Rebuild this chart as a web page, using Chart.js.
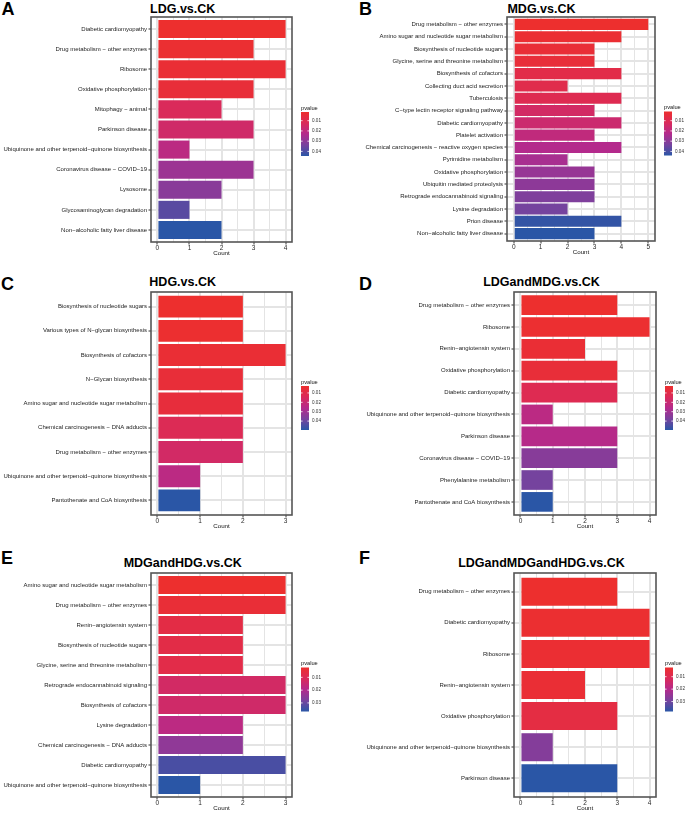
<!DOCTYPE html>
<html><head><meta charset="utf-8">
<script src="https://cdn.jsdelivr.net/npm/chart.js@4.4.0/dist/chart.umd.min.js"></script>
<style>
html,body{margin:0;padding:0;background:#fff;}
#wrap{position:relative;width:685px;height:814px;overflow:hidden;font-family:"Liberation Sans",Arial,sans-serif;background:#fff;}
canvas{position:absolute;}
.letter{position:absolute;font-weight:bold;font-size:18px;line-height:18px;color:#000;}
.title{position:absolute;font-weight:bold;font-size:12.5px;line-height:12.5px;color:#000;text-align:center;width:240px;white-space:nowrap;}
</style></head><body><div id="wrap"></div>
<script>
// ---------------- DATA ----------------
const letters = ["A", "B", "C", "D", "E", "F"];
const titles = ["LDG.vs.CK", "MDG.vs.CK", "HDG.vs.CK", "LDGandMDG.vs.CK", "MDGandHDG.vs.CK", "LDGandMDGandHDG.vs.CK"];

const pathwaysA = ["Diabetic cardiomyopathy", "Drug metabolism − other enzymes", "Ribosome", "Oxidative phosphorylation", "Mitophagy − animal", "Parkinson disease", "Ubiquinone and other terpenoid−quinone biosynthesis", "Coronavirus disease − COVID−19", "Lysosome", "Glycosaminoglycan degradation", "Non−alcoholic fatty liver disease"];
const countA = [4, 3, 4, 3, 2, 3, 1, 3, 2, 1, 2];
const pvalueA = [0.0015, 0.0024, 0.0032, 0.0041, 0.0123, 0.0153, 0.0209, 0.0273, 0.0307, 0.0380, 0.0445];

const pathwaysB = ["Drug metabolism − other enzymes", "Amino sugar and nucleotide sugar metabolism", "Biosynthesis of nucleotide sugars", "Glycine, serine and threonine metabolism", "Biosynthesis of cofactors", "Collecting duct acid secretion", "Tuberculosis", "C−type lectin receptor signaling pathway", "Diabetic cardiomyopathy", "Platelet activation", "Chemical carcinogenesis − reactive oxygen species", "Pyrimidine metabolism", "Oxidative phosphorylation", "Ubiquitin mediated proteolysis", "Retrograde endocannabinoid signaling", "Lysine degradation", "Prion disease", "Non−alcoholic fatty liver disease"];
const countB = [5, 4, 3, 3, 4, 2, 4, 3, 4, 3, 4, 2, 3, 3, 3, 2, 4, 3];
const pvalueB = [0.0010, 0.0023, 0.0032, 0.0040, 0.0075, 0.0083, 0.0096, 0.0139, 0.0161, 0.0191, 0.0225, 0.0247, 0.0277, 0.0294, 0.0320, 0.0337, 0.0427, 0.0440];

const pathwaysC = ["Biosynthesis of nucleotide sugars", "Various types of N−glycan biosynthesis", "Biosynthesis of cofactors", "N−Glycan biosynthesis", "Amino sugar and nucleotide sugar metabolism", "Chemical carcinogenesis − DNA adducts", "Drug metabolism − other enzymes", "Ubiquinone and other terpenoid−quinone biosynthesis", "Pantothenate and CoA biosynthesis"];
const countC = [2, 2, 3, 2, 2, 2, 2, 1, 1];
const pvalueC = [0.0026, 0.0031, 0.0045, 0.0054, 0.0064, 0.0130, 0.0168, 0.0239, 0.0495];

const pathwaysD = ["Drug metabolism − other enzymes", "Ribosome", "Renin−angiotensin system", "Oxidative phosphorylation", "Diabetic cardiomyopathy", "Ubiquinone and other terpenoid−quinone biosynthesis", "Parkinson disease", "Coronavirus disease − COVID−19", "Phenylalanine metabolism", "Pantothenate and CoA biosynthesis"];
const countD = [3, 4, 2, 3, 3, 1, 3, 3, 1, 1];
const pvalueD = [0.0026, 0.0035, 0.0045, 0.0054, 0.0121, 0.0239, 0.0254, 0.0348, 0.0382, 0.0495];

const pathwaysE = ["Amino sugar and nucleotide sugar metabolism", "Drug metabolism − other enzymes", "Renin−angiotensin system", "Biosynthesis of nucleotide sugars", "Glycine, serine and threonine metabolism", "Retrograde endocannabinoid signaling", "Biosynthesis of cofactors", "Lysine degradation", "Chemical carcinogenesis − DNA adducts", "Diabetic cardiomyopathy", "Ubiquinone and other terpenoid−quinone biosynthesis"];
const countE = [3, 3, 2, 2, 2, 3, 3, 2, 2, 3, 1];
const pvalueE = [0.0023, 0.0040, 0.0068, 0.0071, 0.0075, 0.0126, 0.0133, 0.0178, 0.0247, 0.0333, 0.0367];

const pathwaysF = ["Drug metabolism − other enzymes", "Diabetic cardiomyopathy", "Ribosome", "Renin−angiotensin system", "Oxidative phosphorylation", "Ubiquinone and other terpenoid−quinone biosynthesis", "Parkinson disease"];
const countF = [3, 4, 4, 2, 3, 1, 3];
const pvalueF = [0.0026, 0.0033, 0.0037, 0.0040, 0.0068, 0.0274, 0.0380];

const legendTitle = "pvalue";
const axisTitle = "Count";

// ---------------- LAYOUT / STYLE ----------------
const panels = [
  {labels: pathwaysA, counts: countA, p: pvalueA},
  {labels: pathwaysB, counts: countB, p: pvalueB},
  {labels: pathwaysC, counts: countC, p: pvalueC},
  {labels: pathwaysD, counts: countD, p: pvalueD},
  {labels: pathwaysE, counts: countE, p: pvalueE},
  {labels: pathwaysF, counts: countF, p: pvalueF}
];
const boxes = [
  {x:0,   y:0,   w:342, h:270, L:151, R:292, T:17, B:242, lx:1.5, ly:0,   tcx:182.7, tcy:9},
  {x:342, y:0,   w:343, h:270, L:165, R:313, T:17, B:241, lx:359, ly:0,   tcx:541.5, tcy:9},
  {x:0,   y:270, w:342, h:270, L:151, R:292, T:22, B:245, lx:1,   ly:275, tcx:182.7, tcy:282.3},
  {x:342, y:270, w:343, h:270, L:172, R:314, T:22, B:245, lx:359, ly:275, tcx:541.5, tcy:282.3},
  {x:0,   y:540, w:342, h:274, L:151, R:292, T:33, B:257, lx:1,   ly:549, tcx:182.7, tcy:563.3},
  {x:342, y:540, w:343, h:274, L:172, R:314, T:33, B:257, lx:359, ly:549, tcx:541.5, tcy:563.3}
];
const XH = 14.6;
const gradStops = [
  [0.00, [237, 47, 46]],
  [0.25, [218, 42, 90]],
  [0.50, [180, 42, 140]],
  [0.75, [120, 66, 158]],
  [1.00, [42, 86, 166]]
];
function gradColor(t) {
  t = Math.max(0, Math.min(1, t));
  for (let i = 0; i < gradStops.length - 1; i++) {
    const [t0, c0] = gradStops[i], [t1, c1] = gradStops[i + 1];
    if (t <= t1) {
      const f = (t - t0) / (t1 - t0);
      const c = c0.map((v, k) => Math.round(v + (c1[k] - v) * f));
      return `rgb(${c[0]},${c[1]},${c[2]})`;
    }
  }
  const c = gradStops[gradStops.length - 1][1];
  return `rgb(${c[0]},${c[1]},${c[2]})`;
}

Chart.defaults.font.family = '"Liberation Sans", Arial, sans-serif';

const decoPlugin = {
  id: 'deco',
  afterDatasetsDraw(chart, args, opts) {
    const {ctx, chartArea: a} = chart;
    ctx.save();
    // panel border
    ctx.strokeStyle = '#555555';
    ctx.lineWidth = 1.6;
    ctx.strokeRect(a.left, a.top, a.right - a.left, a.bottom - a.top);
    // colour bar legend
    const pmin = opts.pmin, pmax = opts.pmax;
    const bx = a.right + 9, bw = 8, bh = 44;
    const by = (a.top + a.bottom) / 2 - 17.5;
    const g = ctx.createLinearGradient(0, by, 0, by + bh);
    gradStops.forEach(([t, c]) => g.addColorStop(t, `rgb(${c[0]},${c[1]},${c[2]})`));
    ctx.fillStyle = g;
    ctx.fillRect(bx, by, bw, bh);
    ctx.fillStyle = '#111';
    ctx.font = '5.7px "Liberation Sans", Arial, sans-serif';
    ctx.textBaseline = 'alphabetic';
    ctx.textAlign = 'left';
    ctx.fillText(legendTitle, bx, by - 2.5);
    ctx.font = '4.6px "Liberation Sans", Arial, sans-serif';
    ctx.textBaseline = 'middle';
    ctx.strokeStyle = '#ffffff';
    ctx.lineWidth = 0.8;
    for (let k = Math.ceil(pmin / 0.01); k * 0.01 <= pmax; k++) {
      const v = k * 0.01;
      const y = by + (v - pmin) / (pmax - pmin) * bh;
      ctx.beginPath();
      ctx.moveTo(bx, y); ctx.lineTo(bx + 1.6, y);
      ctx.moveTo(bx + bw - 1.6, y); ctx.lineTo(bx + bw, y);
      ctx.stroke();
      ctx.fillStyle = '#333';
      ctx.fillText(v.toFixed(2), bx + bw + 3, y);
    }
    ctx.restore();
  }
};

const wrap = document.getElementById('wrap');
panels.forEach((pn, k) => {
  const b = boxes[k];
  const lt = document.createElement('div');
  lt.className = 'letter'; lt.textContent = letters[k];
  lt.style.left = b.lx + 'px'; lt.style.top = b.ly + 'px';
  wrap.appendChild(lt);
  const tt = document.createElement('div');
  tt.className = 'title'; tt.textContent = titles[k];
  tt.style.left = (b.tcx - 120) + 'px'; tt.style.top = (b.tcy - 6.1) + 'px';
  wrap.appendChild(tt);

  const cv = document.createElement('canvas');
  cv.width = b.w; cv.height = b.h;
  cv.style.left = b.x + 'px'; cv.style.top = b.y + 'px';
  cv.style.width = b.w + 'px'; cv.style.height = b.h + 'px';
  wrap.appendChild(cv);

  const n = pn.labels.length;
  const pmin = Math.min(...pn.p), pmax = Math.max(...pn.p);
  const cmax = Math.max(...pn.counts);
  const isMajor = c => c.tick && Number.isInteger(c.tick.value);

  new Chart(cv, {
    type: 'bar',
    data: {
      datasets: [{
        data: pn.counts.map((c, i) => ({x: c, y: i + 1})),
        backgroundColor: pn.p.map(v => gradColor((v - pmin) / (pmax - pmin))),
        borderWidth: 0,
        barPercentage: 0.9,
        categoryPercentage: 1.0
      }]
    },
    options: {
      indexAxis: 'y',
      responsive: false,
      animation: false,
      devicePixelRatio: 1,
      layout: {padding: {left: 0, top: b.T, right: b.w - b.R, bottom: b.h - b.B - XH}},
      plugins: {legend: {display: false}, tooltip: {enabled: false}, title: {display: false}, deco: {pmin, pmax}},
      scales: {
        x: {
          type: 'linear', min: -0.05 * cmax, max: 1.05 * cmax, offset: false,
          afterBuildTicks: s => { const t = []; for (let v = 0; v <= cmax + 1e-9; v += 0.5) t.push({value: v}); s.ticks = t; },
          afterFit: s => { s.height = XH; },
          grid: {
            offset: false,
            color: '#e4e4e4',
            lineWidth: c => isMajor(c) ? 2 : 1,
            tickColor: c => isMajor(c) ? '#333333' : 'rgba(0,0,0,0)',
            tickLength: 2.5, tickWidth: 1
          },
          border: {display: false},
          ticks: {autoSkip: false, maxRotation: 0, minRotation: 0, padding: 0, color: '#2a2a2a', font: {size: 6.5, lineHeight: 1},
                  callback: v => Number.isInteger(v) ? String(v) : ''},
          title: {display: true, text: axisTitle, color: '#111', font: {size: 6.2, lineHeight: 1}, padding: 0}
        },
        y: {
          type: 'linear', reverse: true, min: 0.4, max: n + 0.6, offset: false,
          afterBuildTicks: s => { s.ticks = pn.labels.map((_, i) => ({value: i + 1})); },
          afterFit: s => { s.width = b.L; },
          grid: {offset: false, color: '#e4e4e4', lineWidth: 2, tickColor: '#333333', tickLength: 2.5, tickWidth: 1},
          border: {display: false},
          ticks: {autoSkip: false, padding: 1.5, color: '#222', font: {size: 6, lineHeight: 1},
                  callback: v => pn.labels[v - 1]}
        }
      }
    },
    plugins: [decoPlugin]
  });
});
</script>
</body></html>
